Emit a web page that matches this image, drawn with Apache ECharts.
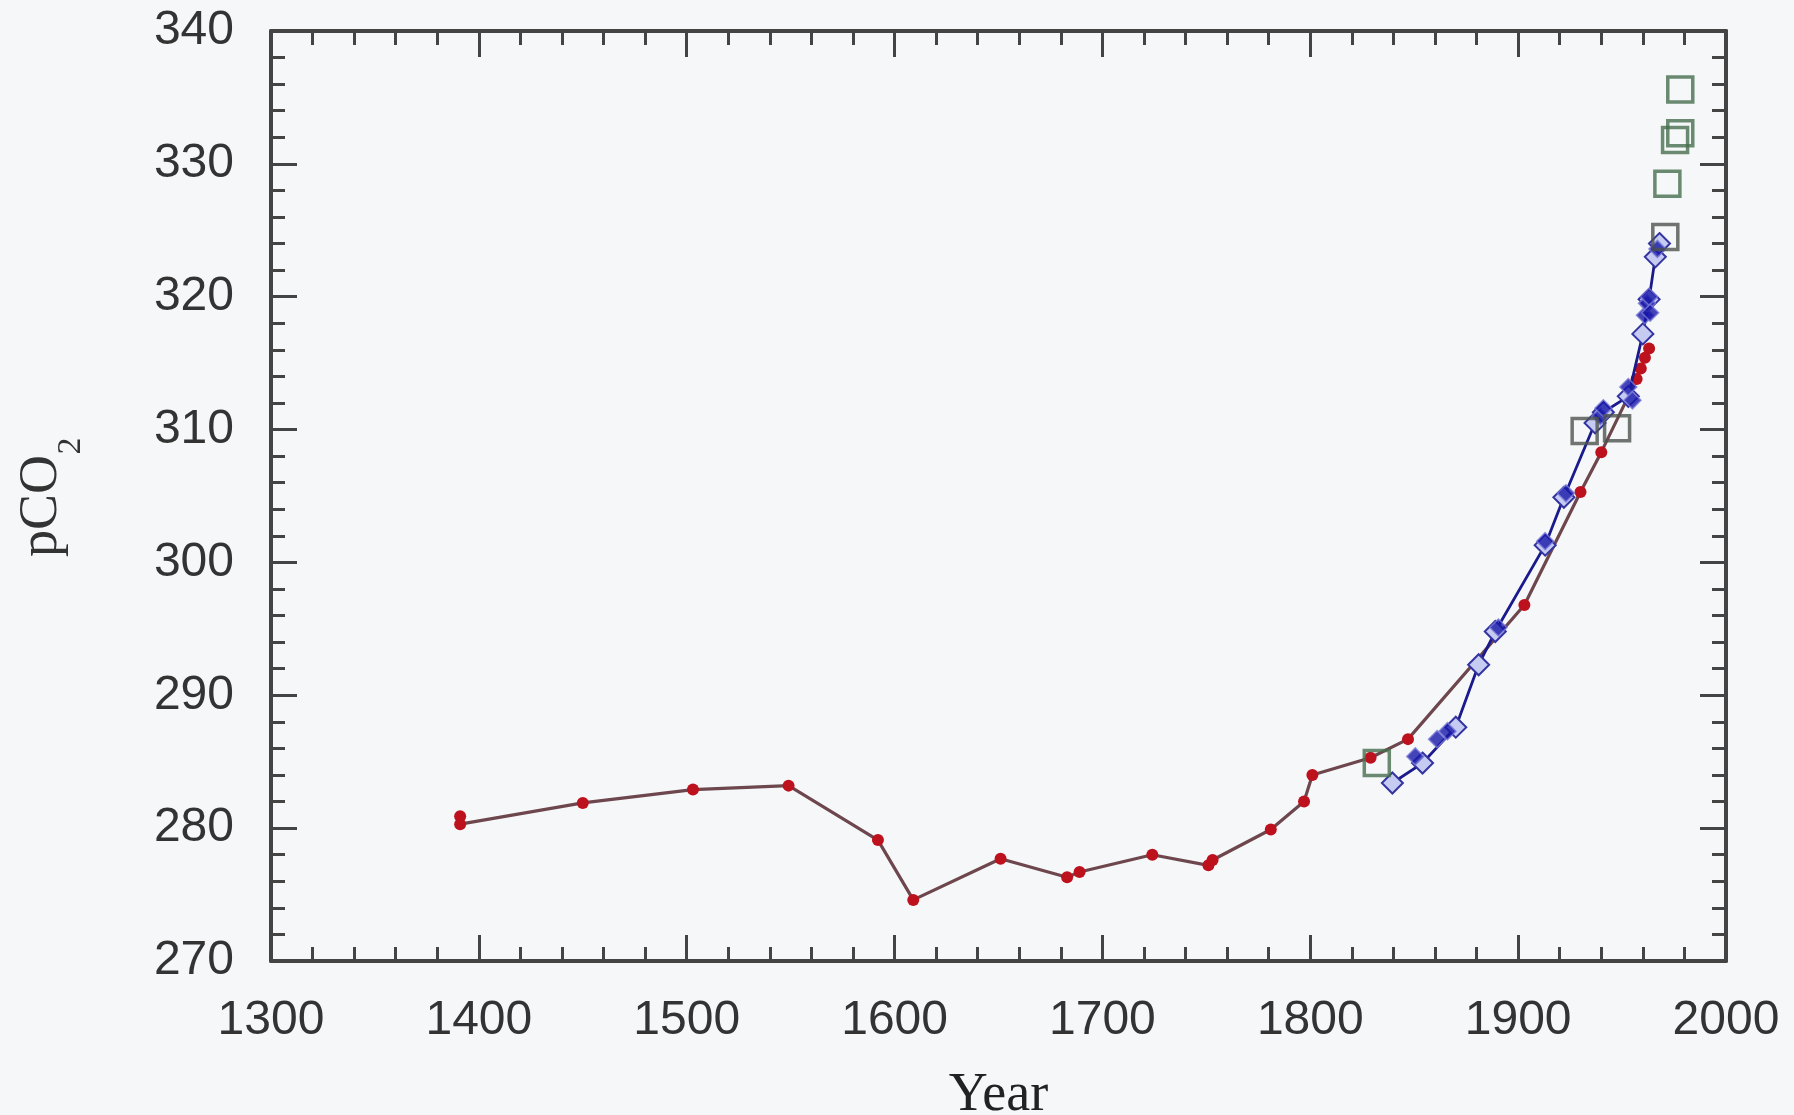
<!DOCTYPE html>
<html><head><meta charset="utf-8">
<script src="https://cdn.jsdelivr.net/npm/echarts@6/dist/echarts.min.js"></script>
<style>html,body{margin:0;padding:0;background:#f5f7f9}#c{width:1794px;height:1115px}</style>
</head><body><div id="c"></div>
<script>
// ---- data ----
const xTickLabels = [1300, 1400, 1500, 1600, 1700, 1800, 1900, 2000];
const yTickLabels = [270, 280, 290, 300, 310, 320, 330, 340];

// red filled dots joined by a line
const redYears  = [1391, 1391, 1450, 1503, 1549, 1592, 1609, 1651, 1683, 1689, 1724, 1751, 1753, 1781, 1797, 1801, 1829, 1847, 1903, 1930, 1940, 1957, 1959, 1961, 1963];
const redValues = [280.9, 280.3, 281.9, 282.9, 283.2, 279.1, 274.6, 277.7, 276.3, 276.7, 278.0, 277.2, 277.6, 279.9, 282.0, 284.0, 285.3, 286.7, 296.8, 305.3, 308.3, 313.8, 314.6, 315.4, 316.1];

// blue open diamonds joined by a line
const blueOpenYears  = [1839.5, 1854, 1870, 1881, 1889, 1913, 1922, 1937, 1941, 1953, 1960, 1963, 1966, 1968];
const blueOpenValues = [283.4, 284.9, 287.6, 292.3, 294.8, 301.3, 304.9, 310.5, 311.3, 312.5, 317.2, 319.8, 323.0, 324.0];

// blue filled diamonds
const blueFillYears  = [1850.5, 1861, 1866, 1890.5, 1913, 1923, 1939.5, 1941, 1953, 1955, 1961, 1962, 1963, 1963.5, 1967];
const blueFillValues = [285.4, 286.7, 287.3, 295.1, 301.6, 305.2, 311.0, 311.6, 313.2, 312.2, 318.6, 319.5, 320.0, 318.8, 323.6];

// open squares (green)
const sqGreenYears  = [1832, 1971.8, 1975.5, 1978, 1978];
const sqGreenValues = [284.9, 328.5, 331.8, 332.3, 335.6];

// open squares (grey)
const sqGreyYears  = [1932, 1947.6, 1970.8];
const sqGreyValues = [309.9, 310.1, 324.5];

const zip = (xs, ys) => xs.map((x, i) => [x, ys[i]]);

// ---- chart ----
const chart = echarts.init(document.getElementById('c'), null, {renderer: 'canvas'});
const axisCol = '#444';
const labelFont = {fontFamily: 'Liberation Sans, Arial, sans-serif', fontSize: 48, color: '#333'};

function xAx(pos, showLabel) {
  return {
    type: 'value', position: pos, min: 1300, max: 2000, interval: 100,
    axisLine: {show: true, onZero: false, lineStyle: {color: axisCol, width: 4}},
    axisTick: {show: true, inside: true, length: 26, lineStyle: {color: axisCol, width: 3}},
    minorTick: {show: true, splitNumber: 5, length: 14, lineStyle: {color: axisCol, width: 3}},
    splitLine: {show: false}, minorSplitLine: {show: false},
    axisLabel: Object.assign({show: showLabel, margin: 36,
      formatter: v => xTickLabels.includes(v) ? String(v) : ''}, labelFont),
    name: showLabel ? 'Year' : '', nameLocation: 'middle', nameGap: 108,
    nameTextStyle: {fontFamily: 'Liberation Serif, Times New Roman, serif', fontSize: 54, color: '#222'}
  };
}
function yAx(pos, showLabel) {
  return {
    type: 'value', position: pos, min: 270, max: 340, interval: 10,
    axisLine: {show: true, onZero: false, lineStyle: {color: axisCol, width: 4}},
    axisTick: {show: true, inside: true, length: 26, lineStyle: {color: axisCol, width: 3}},
    minorTick: {show: true, splitNumber: 5, length: 14, lineStyle: {color: axisCol, width: 3}},
    splitLine: {show: false}, minorSplitLine: {show: false},
    axisLabel: Object.assign({show: showLabel, margin: 37,
      formatter: v => yTickLabels.includes(v) ? String(v) : ''}, labelFont)
  };
}

chart.setOption({
  backgroundColor: '#f5f7f9',
  animation: false,
  grid: {left: 271, right: 68, top: 31, bottom: 154, containLabel: false, outerBoundsMode: 'none'},
  xAxis: [xAx('bottom', true), xAx('top', false)],
  yAxis: [yAx('left', true), yAx('right', false)],
  graphic: [
    {type: 'text', x: 42, y: 506, rotation: Math.PI / 2,
      style: {text: 'pCO', font: '54px "Liberation Serif", "Times New Roman", serif', fill: '#333',
        align: 'center', verticalAlign: 'middle'}},
    {type: 'text', x: 71, y: 446, rotation: Math.PI / 2,
      style: {text: '2', font: '34px "Liberation Serif", "Times New Roman", serif', fill: '#333',
        align: 'center', verticalAlign: 'middle'}}
  ],
  series: [
    {type: 'line', name: 'red', data: zip(redYears, redValues),
      symbol: 'circle', symbolSize: 12, showSymbol: true,
      itemStyle: {color: '#bd111d'},
      lineStyle: {color: '#6d474d', width: 3.2}, z: 2},
    {type: 'line', name: 'blueOpen', data: zip(blueOpenYears, blueOpenValues),
      symbol: 'diamond', symbolSize: 21, showSymbol: true,
      itemStyle: {color: '#c6cbf2', borderColor: '#3434a0', borderWidth: 2},
      lineStyle: {color: '#1a1a8c', width: 2.8}, z: 3},
    {type: 'scatter', name: 'blueFill', data: zip(blueFillYears, blueFillValues),
      symbol: 'diamond', symbolSize: 17,
      itemStyle: {color: '#1616a8', borderColor: '#7a7ad8', borderWidth: 1.5}, z: 4},
    {type: 'scatter', name: 'sqGreen', data: zip(sqGreenYears, sqGreenValues),
      symbol: 'rect', symbolSize: 25,
      itemStyle: {color: 'rgba(0,0,0,0)', borderColor: '#466e4e', borderWidth: 3.5}, z: 5},
    {type: 'scatter', name: 'sqGrey', data: zip(sqGreyYears, sqGreyValues),
      symbol: 'rect', symbolSize: 25,
      itemStyle: {color: 'rgba(0,0,0,0)', borderColor: '#4d534f', borderWidth: 3.5}, z: 5}
  ]
});
</script>
</body></html>
